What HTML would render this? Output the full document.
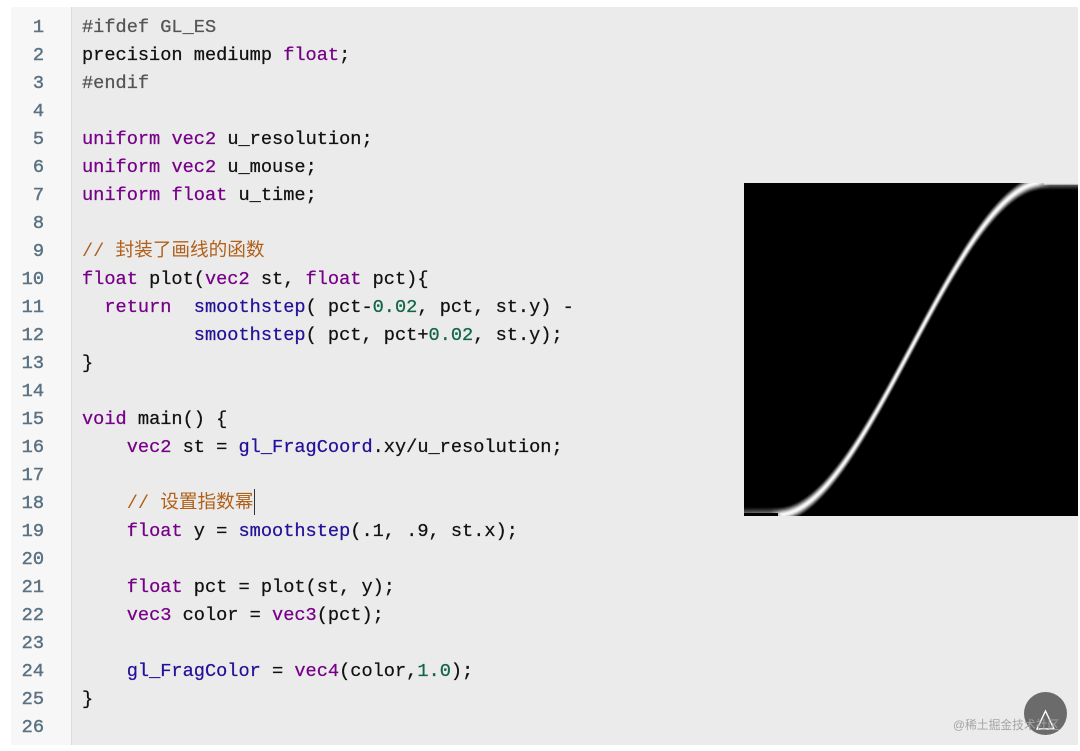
<!DOCTYPE html>
<html lang="zh">
<head>
<meta charset="utf-8">
<title>GLSL smoothstep</title>
<style>
html,body{margin:0;padding:0;background:#fff}
body{width:1080px;height:751px;position:relative;overflow:hidden}
#panel{position:absolute;left:11px;top:7px;width:1067px;height:738px;background:#ebebeb}
#gutter{position:absolute;left:11px;top:7px;width:60px;height:738px;background:#f7f7f7;border-right:1px solid #dcdcdc}
#nums,#code{position:absolute;top:13px;margin:0;font:18.64px/28px "Liberation Mono","Noto Sans CJK SC",monospace;-webkit-text-stroke:.25px currentColor;filter:blur(.3px)}
#nums{left:11px;width:33px;text-align:right;color:#5b7283;-webkit-text-stroke:.45px #5b7283}
#code{left:82px;color:#111;white-space:pre}
.k{color:#770088}.f{color:#221199}.n{color:#116644}.c{color:#b0601a;-webkit-text-stroke:0}.m{color:#555}
#caret{position:absolute;left:253.5px;top:489px;width:1.6px;height:26px;background:#333}
#shot{position:absolute;left:744px;top:183px}
#wm{position:absolute;left:953px;top:717px;font:11.8px/16px "Liberation Sans","Noto Sans CJK SC",sans-serif;color:#a5a5a5;white-space:nowrap}
#btn{position:absolute;left:1024px;top:692px}
</style>
</head>
<body>
<div id="panel"></div>
<div id="gutter"></div>
<pre id="nums">1
2
3
4
5
6
7
8
9
10
11
12
13
14
15
16
17
18
19
20
21
22
23
24
25
26</pre>
<pre id="code"><span class="m">#ifdef GL_ES</span>
precision mediump <span class="k">float</span>;
<span class="m">#endif</span>

<span class="k">uniform</span> <span class="k">vec2</span> u_resolution;
<span class="k">uniform</span> <span class="k">vec2</span> u_mouse;
<span class="k">uniform</span> <span class="k">float</span> u_time;

<span class="c">// 封装了画线的函数</span>
<span class="k">float</span> plot(<span class="k">vec2</span> st, <span class="k">float</span> pct){
  <span class="k">return</span>  <span class="f">smoothstep</span>( pct-<span class="n">0.02</span>, pct, st.y) -
          <span class="f">smoothstep</span>( pct, pct+<span class="n">0.02</span>, st.y);
}

<span class="k">void</span> main() {
    <span class="k">vec2</span> st = <span class="f">gl_FragCoord</span>.xy/u_resolution;

    <span class="c">// 设置指数幂</span>
    <span class="k">float</span> y = <span class="f">smoothstep</span>(.1, .9, st.x);

    <span class="k">float</span> pct = plot(st, y);
    <span class="k">vec3</span> color = <span class="k">vec3</span>(pct);

    <span class="f">gl_FragColor</span> = <span class="k">vec4</span>(color,<span class="n">1.0</span>);
}
</pre>
<div id="caret"></div>
<svg id="shot" width="334" height="333" viewBox="744 183 334 333">
<defs>
<linearGradient id="fl" x1="0" x2="1" y1="0" y2="0"><stop offset="0" stop-color="#000" stop-opacity=".55"/><stop offset=".7" stop-color="#000" stop-opacity=".5"/><stop offset="1" stop-color="#000" stop-opacity="0"/></linearGradient>
<linearGradient id="fr" x1="0" x2="1" y1="0" y2="0"><stop offset="0" stop-color="#000" stop-opacity="0"/><stop offset=".3" stop-color="#000" stop-opacity=".45"/><stop offset="1" stop-color="#000" stop-opacity=".5"/></linearGradient>
</defs>
<rect x="744" y="183" width="334" height="333" fill="#000"/>
<g fill="#fff">
<path opacity=".10" d="M744 507.4H777.4C866.5 507.4 955.5 174.4 1044.6 174.4H1078V189.6H1044.6C955.5 189.6 866.5 522.6 777.4 522.6H744Z"/>
<path opacity=".16" d="M744 508.5H777.4C866.5 508.5 955.5 175.5 1044.6 175.5H1078V188.5H1044.6C955.5 188.5 866.5 521.5 777.4 521.5H744Z"/>
<path opacity=".24" d="M744 509.6H777.4C866.5 509.6 955.5 176.6 1044.6 176.6H1078V187.4H1044.6C955.5 187.4 866.5 520.4 777.4 520.4H744Z"/>
<path opacity=".34" d="M744 510.8H777.4C866.5 510.8 955.5 177.8 1044.6 177.8H1078V186.2H1044.6C955.5 186.2 866.5 519.2 777.4 519.2H744Z"/>
<path opacity=".48" d="M744 512H777.4C866.5 512 955.5 179 1044.6 179H1078V185H1044.6C955.5 185 866.5 518 777.4 518H744Z"/>
<path opacity=".68" d="M744 513.2H777.4C866.5 513.2 955.5 180.2 1044.6 180.2H1078V183.8H1044.6C955.5 183.8 866.5 516.8 777.4 516.8H744Z"/>
<path opacity=".95" d="M777.4 514.6C866.5 514.6 955.5 181.6 1044.6 181.6V182.4C955.5 182.4 866.5 515.4 777.4 515.4Z"/>
</g>
<rect x="744" y="505" width="38" height="11" fill="url(#fl)"/>
<rect x="744" y="513" width="34" height="3" fill="#000"/>
<rect x="1038" y="183" width="40" height="9" fill="url(#fr)"/>
<rect x="1044" y="183" width="34" height="1.6" fill="#e4e4e4"/>
</svg>
<svg id="btn" width="43" height="43" viewBox="0 0 43 43">
<circle cx="21.5" cy="21.5" r="21.5" fill="#6b6b6b"/>
<path d="M21.5 19L30 37H13Z" fill="none" stroke="#fff" stroke-width="1.4"/>
</svg>
<div id="wm">@稀土掘金技术社区</div>
</body>
</html>
